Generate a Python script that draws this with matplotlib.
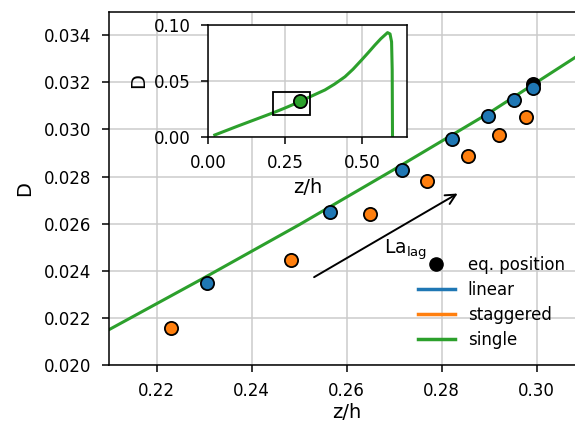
import matplotlib
matplotlib.use("Agg")
import matplotlib.pyplot as plt
from matplotlib.lines import Line2D
from matplotlib.patches import Rectangle

# single-particle D(z/h) curve
z_single = [0.022, 0.097, 0.184, 0.21, 0.23, 0.25, 0.27, 0.29, 0.31,
            0.379, 0.41, 0.444, 0.47, 0.498, 0.52, 0.541, 0.56, 0.582,
            0.590, 0.595, 0.597, 0.598]
D_single = [0.0018, 0.0098, 0.0188, 0.0215, 0.0237, 0.02595, 0.0283, 0.0307, 0.0333,
            0.042, 0.0472, 0.0538, 0.0605, 0.0688, 0.0755, 0.0821, 0.0877, 0.0932,
            0.0920, 0.0850, 0.0600, 0.0]

# linear model points
z_linear = [0.2307, 0.2565, 0.2717, 0.2822, 0.2897, 0.2953, 0.2993]
D_linear = [0.02348, 0.02649, 0.02826, 0.02960, 0.03058, 0.03126, 0.03178]

# staggered model points
z_stag = [0.2230, 0.2483, 0.2649, 0.2769, 0.2855, 0.2921, 0.2978]
D_stag = [0.02158, 0.02445, 0.02639, 0.02783, 0.02889, 0.02978, 0.03051]

# equilibrium position
z_eq = 0.2993
D_eq = 0.03195

blue = '#1f77b4'
orange = '#ff7f0e'
green = '#2ca02c'
grid_col = '#cbcbcb'

plt.rcParams['axes.linewidth'] = 1.1
plt.rcParams['xtick.major.width'] = 1.1
plt.rcParams['ytick.major.width'] = 1.1

fig = plt.figure(figsize=(5.75, 4.25), dpi=100)
ax = fig.add_axes([109/575, 60/425, 475/575, 353.3/425])

ax.plot(z_single, D_single, color=green, lw=2.2, zorder=2)
ax.plot(z_eq, D_eq, 'o', color='k', ms=9.5, mec='k', mew=1.3, zorder=3)
ax.plot(z_stag, D_stag, 'o', color=orange, ms=9.5, mec='k', mew=1.3, zorder=4)
ax.plot(z_linear, D_linear, 'o', color=blue, ms=9.5, mec='k', mew=1.3, zorder=4)

ax.annotate('', xy=(0.2839, 0.02734), xytext=(0.25267, 0.02367),
            arrowprops=dict(arrowstyle='->', color='k', lw=1.4, mutation_scale=18))
ax.text(0.2725, 0.02491, r'La$_{\rm lag}$', fontsize=13.5, ha='center', va='center')

ax.set_xlim(0.21, 0.31)
ax.set_ylim(0.020, 0.035)
ax.set_xticks([0.22, 0.24, 0.26, 0.28, 0.30])
ax.set_yticks([0.020, 0.022, 0.024, 0.026, 0.028, 0.030, 0.032, 0.034])
ax.set_xlabel('z/h', fontsize=14, labelpad=2)
ax.set_ylabel('D', fontsize=14, labelpad=7)
ax.tick_params(labelsize=12, length=5, pad=7.5)
ax.grid(True, color=grid_col, lw=1.1)
ax.spines['right'].set_visible(False)

handles = [
    Line2D([], [], marker='o', color='k', ls='none', ms=9.5),
    Line2D([], [], color=blue, lw=2.5),
    Line2D([], [], color=orange, lw=2.5),
    Line2D([], [], color=green, lw=2.5),
]
labels = ['eq. position', 'linear', 'staggered', 'single']
ax.legend(handles, labels, loc='upper left', frameon=False, fontsize=12,
          handlelength=2.24, handletextpad=0.76, labelspacing=0.42,
          borderaxespad=0, bbox_to_anchor=(411/575, 176/425),
          bbox_transform=fig.transFigure)

# inset with full profile
axin = fig.add_axes([208/575, 288/425, 199/575, 112/425])
axin.plot(z_single, D_single, color=green, lw=2.2, zorder=2)
axin.plot(z_eq, D_eq, 'o', color=green, ms=9.5, mec='k', mew=1.3, zorder=4)
axin.add_patch(Rectangle((0.21, 0.02), 0.12, 0.02, fill=False, ec='k', lw=1.3, zorder=3))
axin.set_xlim(0, 0.645)
axin.set_ylim(0, 0.10)
axin.set_xticks([0.0, 0.25, 0.5])
axin.set_yticks([0.0, 0.05, 0.10])
axin.set_xlabel('z/h', fontsize=14)
axin.set_ylabel('D', fontsize=14)
axin.tick_params(labelsize=12, length=5, pad=7.5)
axin.grid(True, color=grid_col, lw=1.1)

fig.savefig('out.png', dpi=100)
